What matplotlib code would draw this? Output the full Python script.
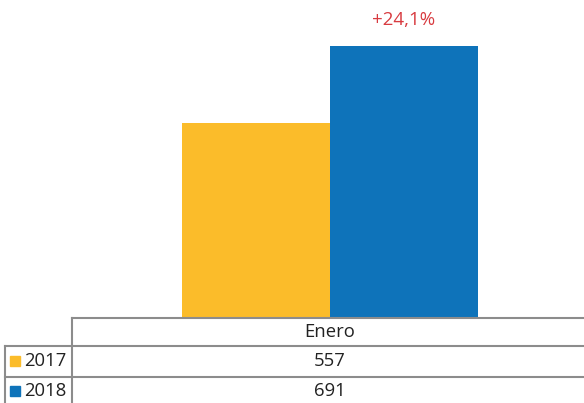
import matplotlib.pyplot as plt
from matplotlib.lines import Line2D
from matplotlib.patches import Rectangle

# data
categories = ['Enero']
series_names = ['2017', '2018']
values_2017 = [557]
values_2018 = [691]
colors = ['#FBBC2A', '#0E73BA']

W, H = 584, 403
plt.rcParams['font.family'] = ['Open Sans', 'DejaVu Sans']

fig = plt.figure(figsize=(W / 100, H / 100), dpi=100)
fig.patch.set_facecolor('white')

# plot area (pixel coords -> figure fraction)
ax = fig.add_axes([72 / W, (H - 318) / H, (W - 72) / W, 318 / H])
bar_w = 0.289
off = 2 / 512
ax.bar([off - bar_w / 2], values_2017, width=bar_w, color=colors[0])
ax.bar([off + bar_w / 2], values_2018, width=bar_w, color=colors[1])
ax.set_xlim(-0.5, 0.5)
ax.set_ylim(217.6, 771)
ax.axis('off')

change = (values_2018[0] / values_2017[0] - 1) * 100
label = ('+' if change >= 0 else '') + f'{change:.1f}%'.replace('.', ',')
ax.annotate(label, xy=(off + bar_w / 2, values_2018[0]), xytext=(0, 12),
            textcoords='offset points', ha='center', va='bottom',
            fontsize=13.5, color='#D83B40')


# data table below the chart, drawn in pixel positions
def px(x, y):
    return x / W, 1 - y / H


def hline(x0, x1, y):
    a, b = px(x0, y), px(x1, y)
    fig.add_artist(Line2D([a[0], b[0]], [a[1], b[1]], color='#8C8C8C', lw=1.5))


def vline(x, y0, y1):
    a, b = px(x, y0), px(x, y1)
    fig.add_artist(Line2D([a[0], b[0]], [a[1], b[1]], color='#8C8C8C', lw=1.5))


hline(72, 584, 318)
hline(5, 584, 346)
hline(5, 584, 377)
vline(72, 318, 403)
vline(5, 346, 403)

fs = 13.3
x, y = px(330, 332)
fig.text(x, y, categories[0], ha='center', va='center', fontsize=fs, color='#222222')

rows_y = [361, 391]
row_vals = [values_2017, values_2018]
for name, vals, c, ry in zip(series_names, row_vals, colors, rows_y):
    x, y = px(330, ry)
    fig.text(x, y, str(vals[0]), ha='center', va='center', fontsize=fs, color='#222222')
    x, y = px(24, ry)
    fig.text(x, y, name, ha='left', va='center', fontsize=fs, color='#222222')
    sx, sy = px(10, ry + 5)
    fig.add_artist(Rectangle((sx, sy), 10 / W, 10 / H, color=c,
                             transform=fig.transFigure))

fig.savefig('out.png', dpi=100)
